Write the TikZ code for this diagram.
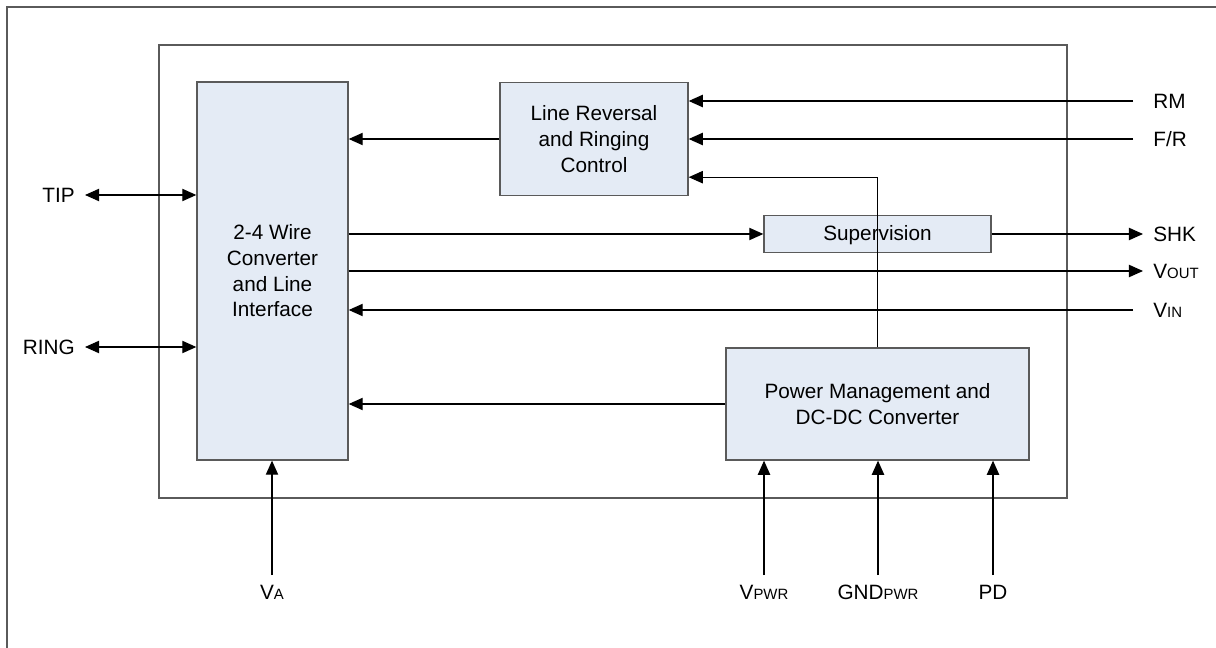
\documentclass[tikz,border=0pt]{standalone}
\usepackage{fontspec}
\setmainfont{Liberation Sans}
\usetikzlibrary{positioning}
\usetikzlibrary{arrows.meta}
\definecolor{boxfill}{HTML}{E4EBF5}
\definecolor{boxline}{HTML}{5A5A5A}
\newcommand{\lo}[1]{{\fontsize{8.5}{10}\selectfont #1}}

\begin{document}
\begin{tikzpicture}[x=0.02cm,y=-0.02cm,>={Triangle[length=8pt,width=7pt]},
    font=\fontsize{11.8}{14.6}\selectfont,
    blk/.style={draw=boxline,line width=0.8pt,fill=boxfill,align=center,inner sep=0pt},
    pin/.style={inner sep=2mm},
    sig/.style={line width=0.6pt}]
    \useasboundingbox (0,0) rectangle (1216,648);
    \draw [boxline,line width=0.8pt] (7,648) -- (7,7) -- (1216,7);% page frame
    \node (chip) [draw=boxline,line width=0.8pt,minimum width=18.16cm,minimum height=9.06cm] at (613,271.5) {};
    % blocks
    \node (wire) [blk,minimum width=3.02cm,minimum height=7.56cm] at (272.5,271) {2-4 Wire\\Converter\\and Line\\Interface};
    \node (rev)  [blk,minimum width=3.76cm,minimum height=2.26cm] at (594,139) {Line Reversal\\and Ringing\\Control};
    \node (sup)  [blk,minimum width=4.54cm,minimum height=0.74cm,text depth=0.2ex] at (877.5,234) {Supervision};
    \node (pwr)  [blk,minimum width=6.06cm,minimum height=2.24cm] at (877.5,404) {Power Management and\\DC-DC Converter};
    % pins
    \node (tip)  [pin,anchor=east] at (85,195)  {TIP};
    \node (ring) [pin,anchor=east] at (85,347)  {RING};
    \node (rm)   [pin,anchor=west] at (1143,101) {RM};
    \node (fr)   [pin,anchor=west] at (1143,139) {F/R};
    \node (shk)  [pin,anchor=west] at (1143,234) {SHK};
    \node (vout) [pin,anchor=west] at (1143,271) {V\lo{OUT}};
    \node (vin)  [pin,anchor=west] at (1143,310) {V\lo{IN}};
    \node (va)   [pin,anchor=north] at (272,575) {V\lo{A}};
    \node (vpwr) [pin,anchor=north] at (764,575) {V\lo{PWR}};
    \node (gnd)  [pin,anchor=north] at (878,575) {GND\lo{PWR}};
    \node (pd)   [pin,anchor=north] at (993,575) {PD};
    % connections
    \draw [sig,<->] (tip.east) -- (tip.east -| wire.west);
    \draw [sig,<->] (ring.east) -- (ring.east -| wire.west);
    \draw [sig,->] ([xshift=-2mm]rm.west) -- (rm -| rev.east);
    \draw [sig,->] ([xshift=-2mm]fr.west) -- (fr -| rev.east);
    \draw [sig,->] (rev.west) -- (rev.west -| wire.east);
    \draw [sig,->] (pwr.north) |- ([yshift=0.38cm]rev.south east);
    \draw [sig,->] (sup.west -| wire.east) -- (sup.west);
    \draw [sig,->] (sup.east) -- (sup.east -| shk.west);
    \draw [sig,->] (vout -| wire.east) -- (vout.west);
    \draw [sig,->] ([xshift=-2mm]vin.west) -- (vin -| wire.east);
    \draw [sig,->] (pwr.west) -- (pwr.west -| wire.east);
    \draw [sig,->] (va.north) -- (va.north |- wire.south);
    \draw [sig,->] (vpwr.north) -- (vpwr.north |- pwr.south);
    \draw [sig,->] (gnd.north) -- (gnd.north |- pwr.south);
    \draw [sig,->] (pd.north) -- (pd.north |- pwr.south);
\end{tikzpicture}
\end{document}
